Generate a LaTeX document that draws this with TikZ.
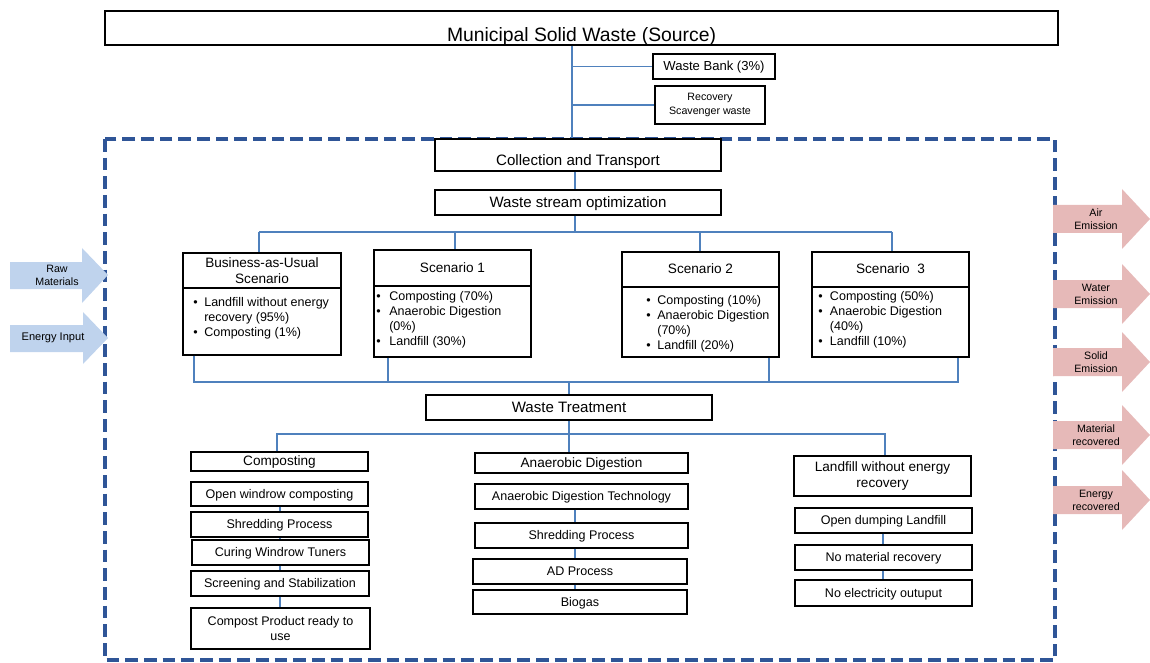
\documentclass[tikz,border=0pt]{standalone}
\usepackage{fontspec}
\setmainfont{Liberation Sans}
\definecolor{connc}{RGB}{79,129,189}
\definecolor{dashc}{RGB}{47,85,151}
\definecolor{inblue}{RGB}{191,211,237}
\definecolor{outpink}{RGB}{230,185,184}
\newcommand\bx[7][]{\node[box,minimum width={(#5-#3)*0.75pt},minimum height={(#6-#4)*0.75pt},#1] (#2) at ({(#3+#5)/2},{(#4+#6)/2}) {#7};}
\tikzset{
  box/.style={draw,fill=white,line width=0.9pt,inner sep=0pt,align=center,font=\fontsize{9.4}{11.3}\selectfont},
  sl/.style={text height=7pt,text depth=0.9pt},
  conn/.style={draw=connc,line width=1pt},
  bigf/.style={font=\fontsize{11.3}{13.5}\selectfont,text height=8.4pt,text depth=1.1pt},
  hdf/.style={font=\fontsize{10.2}{12.3}\selectfont},
  hsl/.style={hdf,text height=7.6pt,text depth=1pt},
  arrf/.style={font=\fontsize{8}{9.6}\selectfont,align=center,inner sep=0pt},
  listn/.style={anchor=north west,inner sep=0pt,font=\fontsize{9.4}{11.25}\selectfont},
}
\begin{document}
\begin{tikzpicture}[x=0.75pt,y=-0.75pt]
\useasboundingbox (0,0) rectangle (1150,663);
% dashed boundary
\draw[dashc,line width=2.3pt,dash pattern=on 9.5pt off 4.5pt] (105,139) rectangle (1055,660);

% source
\bx[font=\fontsize{14.5}{17}\selectfont,text height=23.25pt,text depth=2.25pt]{msw}{105}{11}{1058}{45}{Municipal Solid Waste (Source)}
\bx[font=\fontsize{9.8}{11}\selectfont,text height=7.2pt,text depth=1pt]{wb}{653}{54}{775}{79}{Waste Bank (3\%)}
\bx[font=\fontsize{8}{10.5}\selectfont]{rec}{655}{86}{765}{124}{Recovery\\Scavenger waste}

\bx[bigf,text height=20.25pt,text depth=3.75pt]{ct}{435}{139}{721}{171}{Collection and Transport}
\bx[bigf]{wso}{435}{190}{721}{215}{Waste stream optimization}

% scenarios
\bx[hdf]{bauh}{183}{253}{341}{288}{Business-as-Usual\\Scenario}
\bx{baub}{183}{288}{341}{355}{}
\bx[hsl]{s1h}{374}{250}{531}{286}{Scenario 1}
\bx{s1b}{374}{286}{531}{357}{}
\bx[hsl]{s2h}{622}{252}{779}{287}{Scenario 2}
\bx{s2b}{622}{287}{779}{357}{}
\bx[hsl]{s3h}{812}{252}{969}{287}{Scenario\ \ 3}
\bx{s3b}{812}{287}{969}{357}{}

\node[listn] (baul) at (193,296) {\begin{tabular}{@{}l@{\hspace{5pt}}l@{}}\textbullet & Landfill without energy\\ & recovery (95\%)\\ \textbullet & Composting (1\%)\end{tabular}};
\node[listn] (s1l) at (376,290) {\begin{tabular}{@{}l@{\hspace{6.5pt}}l@{}}\textbullet & Composting (70\%)\\ \textbullet & Anaerobic Digestion\\ & (0\%)\\ \textbullet & Landfill (30\%)\end{tabular}};
\node[listn] (s2l) at (646,294) {\begin{tabular}{@{}l@{\hspace{5pt}}l@{}}\textbullet & Composting (10\%)\\ \textbullet & Anaerobic Digestion\\ & (70\%)\\ \textbullet & Landfill (20\%)\end{tabular}};
\node[listn] (s3l) at (818,290) {\begin{tabular}{@{}l@{\hspace{5.5pt}}l@{}}\textbullet & Composting (50\%)\\ \textbullet & Anaerobic Digestion\\ & (40\%)\\ \textbullet & Landfill (10\%)\end{tabular}};

\bx[bigf]{wt}{426}{395}{712}{420}{Waste Treatment}

% composting
\bx[hsl]{comph}{191}{452}{368}{471}{Composting}
\bx[sl]{c1}{191}{482}{368}{506}{Open windrow composting}
\bx[sl]{c2}{191}{512}{368}{537}{Shredding Process}
\bx[sl]{c3}{192}{540}{369}{565}{Curing Windrow Tuners}
\bx[sl]{c4}{191}{571}{369}{596}{Screening and Stabilization}
\bx{c5}{191}{608}{370}{649}{Compost Product ready to\\use}
% AD
\bx[hsl]{adh}{475}{453}{688}{473}{Anaerobic Digestion}
\bx[sl]{a1}{475}{484}{688}{509}{Anaerobic Digestion Technology}
\bx[sl]{a2}{475}{523}{688}{548}{Shredding Process}
\bx[sl]{a3}{473}{559}{687}{584}{AD Process}
\bx[sl]{a4}{473}{590}{687}{614}{Biogas}
% landfill
\bx[hdf]{lfh}{794}{456}{971}{496}{Landfill without energy\\recovery}
\bx[sl]{l1}{795}{508}{972}{533}{Open dumping Landfill}
\bx[sl]{l2}{795}{545}{972}{570}{No material recovery}
\bx[sl]{l3}{795}{580}{972}{606}{No electricity outuput}

% connectors
\coordinate (t1) at (572,0);
\draw[conn] (msw.south -| t1) -- (ct.north -| t1);
\draw[conn] (t1 |- wb.west) -- (wb.west);
\draw[conn] (t1 |- rec.west) -- (rec.west);
\coordinate (t2) at (575,0);
\draw[conn] (ct.south -| t2) -- (wso.north -| t2);
\coordinate (busA) at (575,232);
\draw[conn] (wso.south -| busA) -- (busA);
\coordinate (ta) at (259,232);
\coordinate (tb) at (455,232);
\coordinate (tc) at (700,232);
\coordinate (td) at (892,232);
\draw[conn] (ta) -- (td);
\draw[conn] (ta) -- (ta |- bauh.north);
\draw[conn] (tb) -- (tb |- s1h.north);
\draw[conn] (tc) -- (tc |- s2h.north);
\draw[conn] (td) -- (td |- s3h.north);
\coordinate (d0) at (194,382);
\coordinate (d1) at (388,382);
\coordinate (d2) at (769,382);
\coordinate (d3) at (958,382);
\draw[conn] (d0 |- baub.south) -- (d0) -- (d3) -- (d3 |- s3b.south);
\draw[conn] (d1 |- s1b.south) -- (d1);
\draw[conn] (d2 |- s2b.south) -- (d2);
\coordinate (tw) at (569,382);
\draw[conn] (tw) -- (tw |- wt.north);
\coordinate (e0) at (277,434);
\coordinate (e1) at (569,434);
\coordinate (e2) at (885,434);
\draw[conn] (e1 |- wt.south) -- (e1 |- adh.north);
\draw[conn] (e0 |- comph.north) -- (e0) -- (e2) -- (e2 |- lfh.north);
\coordinate (cx) at (280,0);
\draw[conn] (cx |- c1.south) -- (cx |- c2.north);
\draw[conn] (cx |- c2.south) -- (cx |- c3.north);
\draw[conn] (cx |- c3.south) -- (cx |- c4.north);
\draw[conn] (cx |- c4.south) -- (cx |- c5.north);
\coordinate (ax) at (575,0);
\draw[conn] (ax |- a1.south) -- (ax |- a2.north);
\draw[conn] (ax |- a2.south) -- (ax |- a3.north);
\draw[conn] (ax |- a3.south) -- (ax |- a4.north);
\coordinate (lx) at (883,0);
\draw[conn] (lx |- l1.south) -- (lx |- l2.north);
\draw[conn] (lx |- l2.south) -- (lx |- l3.north);

% input arrows
\fill[inblue] (10,262) -- (82,262) -- (82,248) -- (108,275) -- (82,303) -- (82,289) -- (10,289) -- cycle;
\node[arrf] (raw) at (57,275) {Raw\\Materials};
\fill[inblue] (10,325) -- (83,325) -- (83,312) -- (108,338) -- (83,364) -- (83,352) -- (10,352) -- cycle;
\node[arrf,font=\fontsize{8.3}{10}\selectfont] (ein) at (53,338) {Energy Input};

% output arrows
\foreach \yc/\nm/\txt in {219/air/{Air\\Emission},294/water/{Water\\Emission},362/solid/{Solid\\Emission},435/mat/{Material\\recovered},500/ener/{Energy\\recovered}}{
  \fill[outpink] (1053,\yc-14) -- (1122,\yc-14) -- (1122,\yc-30) -- (1150,\yc) -- (1122,\yc+30) -- (1122,\yc+14) -- (1053,\yc+14) -- cycle;
  \node[arrf] (\nm) at (1096,\yc) {\txt};
}
\end{tikzpicture}
\end{document}
